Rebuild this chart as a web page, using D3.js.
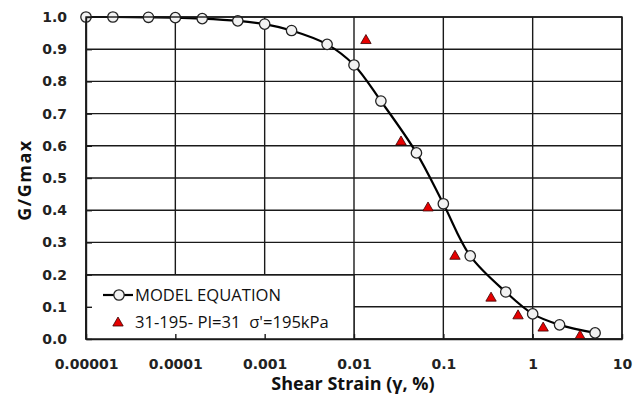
<!DOCTYPE html>
<html>
<head>
<meta charset="utf-8">
<script src="https://cdn.jsdelivr.net/npm/d3@7"></script>
<style>
  body { margin: 0; background: #fff; }
  svg { display: block; }
</style>
</head>
<body>
<div id="chart"></div>
<script>
// G/Gmax modulus reduction curve — model equation vs. test points

const strainModel = [0.00001, 0.00002, 0.00005, 0.0001, 0.0002, 0.0005, 0.001, 0.002, 0.005, 0.01, 0.02, 0.05, 0.1, 0.2, 0.5, 1, 2, 5];
const ggmaxModel  = [1.0, 1.0, 0.999, 0.998, 0.995, 0.988, 0.978, 0.958, 0.915, 0.851, 0.739, 0.578, 0.42, 0.258, 0.146, 0.078, 0.044, 0.019];

const strainTest = [0.0136, 0.0336, 0.0674, 0.135, 0.342, 0.686, 1.31, 3.39];
const ggmaxTest  = [0.93, 0.615, 0.41, 0.26, 0.13, 0.075, 0.037, 0.012];

const xTicks = [0.00001, 0.0001, 0.001, 0.01, 0.1, 1, 10];
const xTickLabels = ["0.00001", "0.0001", "0.001", "0.01", "0.1", "1", "10"];
const yTicks = [0, 0.1, 0.2, 0.3, 0.4, 0.5, 0.6, 0.7, 0.8, 0.9, 1.0];

const legendLabels = ["MODEL EQUATION", "31-195- PI=31  σ'=195kPa"];

const W = 644, H = 402;
const plotL = 86, plotR = 622, plotT = 17, plotB = 339;

const svg = d3.select("#chart").append("svg")
  .attr("width", W)
  .attr("height", H);

const x = d3.scaleLog().domain([0.00001, 10]).range([plotL, plotR]);
const y = d3.scaleLinear().domain([0, 1]).range([plotB, plotT]);

const gridColor = "#1a1a1a";

// grid
svg.append("g")
  .selectAll("line")
  .data(yTicks)
  .enter().append("line")
  .attr("x1", plotL).attr("x2", plotR)
  .attr("y1", d => y(d)).attr("y2", d => y(d))
  .attr("stroke", gridColor)
  .attr("stroke-width", 1.4);

svg.append("g")
  .selectAll("line")
  .data(xTicks)
  .enter().append("line")
  .attr("x1", d => x(d)).attr("x2", d => x(d))
  .attr("y1", plotT).attr("y2", plotB)
  .attr("stroke", gridColor)
  .attr("stroke-width", 1.4);

// model curve
const line = d3.line()
  .x(d => x(d[0]))
  .y(d => y(d[1]))
  .curve(d3.curveCatmullRom.alpha(0.5));

const modelPts = strainModel.map((s, i) => [s, ggmaxModel[i]]);

svg.append("path")
  .datum(modelPts)
  .attr("d", line)
  .attr("fill", "none")
  .attr("stroke", "#000")
  .attr("stroke-width", 2.2);

svg.append("g")
  .selectAll("circle")
  .data(modelPts)
  .enter().append("circle")
  .attr("cx", d => x(d[0]))
  .attr("cy", d => y(d[1]))
  .attr("r", 5.2)
  .attr("fill", "#f2f2f2")
  .attr("stroke", "#222")
  .attr("stroke-width", 1.3);

// test points (triangles)
const tri = (cx, cy) => `M${cx},${cy - 5}L${cx + 5.2},${cy + 4}L${cx - 5.2},${cy + 4}Z`;

svg.append("g")
  .selectAll("path")
  .data(strainTest.map((s, i) => [s, ggmaxTest[i]]))
  .enter().append("path")
  .attr("d", d => tri(x(d[0]), y(d[1])))
  .attr("fill", "#e60000")
  .attr("stroke", "#3a0000")
  .attr("stroke-width", 0.8);

// plot border
svg.append("rect")
  .attr("x", plotL).attr("y", plotT)
  .attr("width", plotR - plotL).attr("height", plotB - plotT)
  .attr("fill", "none")
  .attr("stroke", gridColor)
  .attr("stroke-width", 1.4);

// legend box
svg.append("rect")
  .attr("x", plotL)
  .attr("y", 275)
  .attr("width", x(0.01) - plotL)
  .attr("height", plotB - 275)
  .attr("fill", "#fff")
  .attr("stroke", gridColor)
  .attr("stroke-width", 1.4);

// axes (inside ticks show over the legend box)
svg.append("g")
  .attr("transform", `translate(0,${plotB})`)
  .call(d3.axisBottom(x).tickValues(xTicks).tickSizeInner(-5).tickSizeOuter(0).tickFormat((d, i) => xTickLabels[i]))
  .call(g => g.select(".domain").attr("stroke", gridColor).attr("stroke-width", 1.4))
  .call(g => g.selectAll(".tick line").attr("stroke", gridColor).attr("stroke-width", 1.4))
  .call(g => g.selectAll(".tick text")
    .attr("y", 20)
    .style("font-family", "DejaVu Sans")
    .style("font-weight", "bold")
    .style("font-size", "14px")
    .attr("fill", "#222"));

svg.append("g")
  .attr("transform", `translate(${plotL},0)`)
  .call(d3.axisLeft(y).tickValues(yTicks).tickSizeInner(-6).tickSizeOuter(0).tickFormat(d3.format(".1f")))
  .call(g => g.select(".domain").attr("stroke", gridColor).attr("stroke-width", 1.4))
  .call(g => g.selectAll(".tick line").attr("stroke", gridColor).attr("stroke-width", 1.4))
  .call(g => g.selectAll(".tick text")
    .attr("x", -19)
    .style("font-family", "DejaVu Sans")
    .style("font-weight", "bold")
    .style("font-size", "14px")
    .attr("fill", "#222"));

// legend content
const leg = svg.append("g");
leg.append("line")
  .attr("x1", 103).attr("x2", 133)
  .attr("y1", 295).attr("y2", 295)
  .attr("stroke", "#000").attr("stroke-width", 2.2);
leg.append("circle")
  .attr("cx", 119).attr("cy", 295).attr("r", 5.2)
  .attr("fill", "#f2f2f2").attr("stroke", "#222").attr("stroke-width", 1.3);
leg.append("path")
  .attr("d", tri(118, 322))
  .attr("fill", "#e60000").attr("stroke", "#3a0000").attr("stroke-width", 0.8);

leg.selectAll("text")
  .data(legendLabels)
  .enter().append("text")
  .attr("x", 135)
  .attr("y", (d, i) => 301 + i * 27)
  .style("font-family", "Open Sans")
  .style("font-size", "16.6px")
  .style("white-space", "pre")
  .attr("fill", "#111")
  .text(d => d);

// titles
svg.append("text")
  .attr("x", 353)
  .attr("y", 390)
  .attr("text-anchor", "middle")
  .style("font-family", "Open Sans")
  .style("font-weight", "bold")
  .style("font-size", "18px")
  .attr("fill", "#111")
  .text("Shear Strain (γ, %)");

svg.append("text")
  .attr("transform", "translate(31,180) rotate(-90)")
  .attr("text-anchor", "middle")
  .style("font-family", "Open Sans")
  .style("font-weight", "bold")
  .style("font-size", "18px")
  .style("letter-spacing", "1.5px")
  .attr("fill", "#111")
  .text("G/Gmax");
</script>
</body>
</html>
